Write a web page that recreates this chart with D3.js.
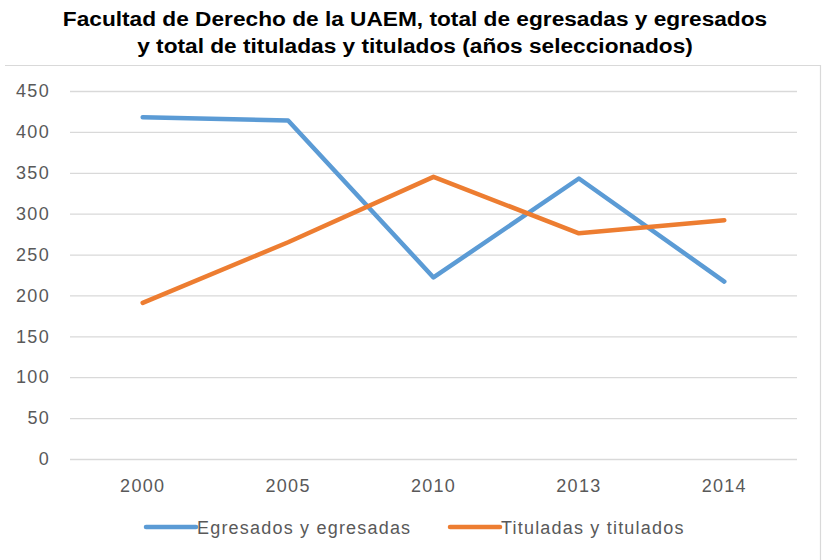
<!DOCTYPE html>
<html>
<head>
<meta charset="utf-8">
<script src="https://cdn.jsdelivr.net/npm/d3@7"></script>
<style>
  body { margin: 0; background: #fff; }
  text { font-family: "Liberation Sans", Arial, sans-serif; }
</style>
</head>
<body>
<div class="chart"></div>
<script>
// data
let years = ["2000", "2005", "2010", "2013", "2014"];
let egresados = [418, 414, 222, 343, 217];
let titulados = [191, 265, 345, 276, 292];
let yTicks = [0, 50, 100, 150, 200, 250, 300, 350, 400, 450];
let titleLines = [
    "Facultad de Derecho de la UAEM, total de egresadas y egresados",
    "y total de tituladas y titulados (años seleccionados)"
];

let chart = {};
chart.width = 822;
chart.height = 560;
chart.margin = { top: 91, right: 25, bottom: 101, left: 70 };

let series = [
    { name: "Egresados y egresadas", values: egresados, color: "#5b9bd5" },
    { name: "Tituladas y titulados", values: titulados, color: "#ed7d31" }
];

chart.svg = d3.select(".chart").append("svg")
    .attr("width", chart.width)
    .attr("height", chart.height);

let innerW = chart.width - chart.margin.left - chart.margin.right;
let innerH = chart.height - chart.margin.top - chart.margin.bottom;

// outer chart border (left side is clipped in the original)
chart.svg.append("path")
    .attr("d", "M5,65.5H820.5V560")
    .attr("fill", "none")
    .attr("stroke", "#d9d9d9")
    .attr("stroke-width", 1.2);

// title - the original text is a bit stretched sideways
chart.svg.selectAll(".title")
    .data(titleLines)
    .join("text")
    .attr("class", "title")
    .attr("transform", (d, i) => `translate(415,${26 + i * 27}) scale(1.134,1)`)
    .attr("text-anchor", "middle")
    .attr("font-size", 20)
    .attr("font-weight", "bold")
    .attr("fill", "#000")
    .text(d => d);

chart.plot = chart.svg.append("g")
    .attr("transform", `translate(${chart.margin.left},${chart.margin.top})`);

chart.xScale = d3.scaleBand().domain(years).range([0, innerW]);
chart.yScale = d3.scaleLinear().domain([0, 450]).range([innerH, 0]);

// gridlines + y labels
chart.yAxis = chart.plot.append("g")
    .call(d3.axisLeft(chart.yScale).tickValues(yTicks).tickSize(-innerW).tickPadding(20));
chart.yAxis.select(".domain").remove();
chart.yAxis.selectAll(".tick line").attr("stroke", "#d9d9d9").attr("stroke-width", 1.3);
chart.yAxis.selectAll(".tick text")
    .attr("font-size", 18).attr("letter-spacing", 1.3).attr("fill", "#595959")
    .attr("font-family", "Liberation Sans, Arial, sans-serif");

// x labels
chart.xAxis = chart.plot.append("g")
    .attr("transform", `translate(0,${innerH})`)
    .call(d3.axisBottom(chart.xScale).tickSize(0).tickPadding(20));
chart.xAxis.select(".domain").remove();
chart.xAxis.selectAll(".tick text")
    .attr("font-size", 18).attr("letter-spacing", 1.3).attr("fill", "#595959")
    .attr("font-family", "Liberation Sans, Arial, sans-serif");

let line = d3.line()
    .x((d, i) => chart.xScale(years[i]) + chart.xScale.bandwidth() / 2)
    .y(d => chart.yScale(d));

chart.plot.selectAll(".series")
    .data(series)
    .join("path")
    .attr("class", "series")
    .attr("d", d => line(d.values))
    .attr("fill", "none")
    .attr("stroke", d => d.color)
    .attr("stroke-width", 4.5)
    .attr("stroke-linecap", "round")
    .attr("stroke-linejoin", "round");

// legend
let legendX = [146, 450];
let legend = chart.svg.selectAll(".legend")
    .data(series)
    .join("g")
    .attr("class", "legend")
    .attr("transform", (d, i) => `translate(${legendX[i]},527)`);
legend.append("line")
    .attr("x1", 0).attr("x2", 50)
    .attr("stroke", d => d.color)
    .attr("stroke-width", 4.5)
    .attr("stroke-linecap", "round");
legend.append("text")
    .attr("x", 51).attr("y", 6.5)
    .attr("font-size", 18).attr("letter-spacing", 1.2).attr("fill", "#595959")
    .text(d => d.name);
</script>
</body>
</html>
